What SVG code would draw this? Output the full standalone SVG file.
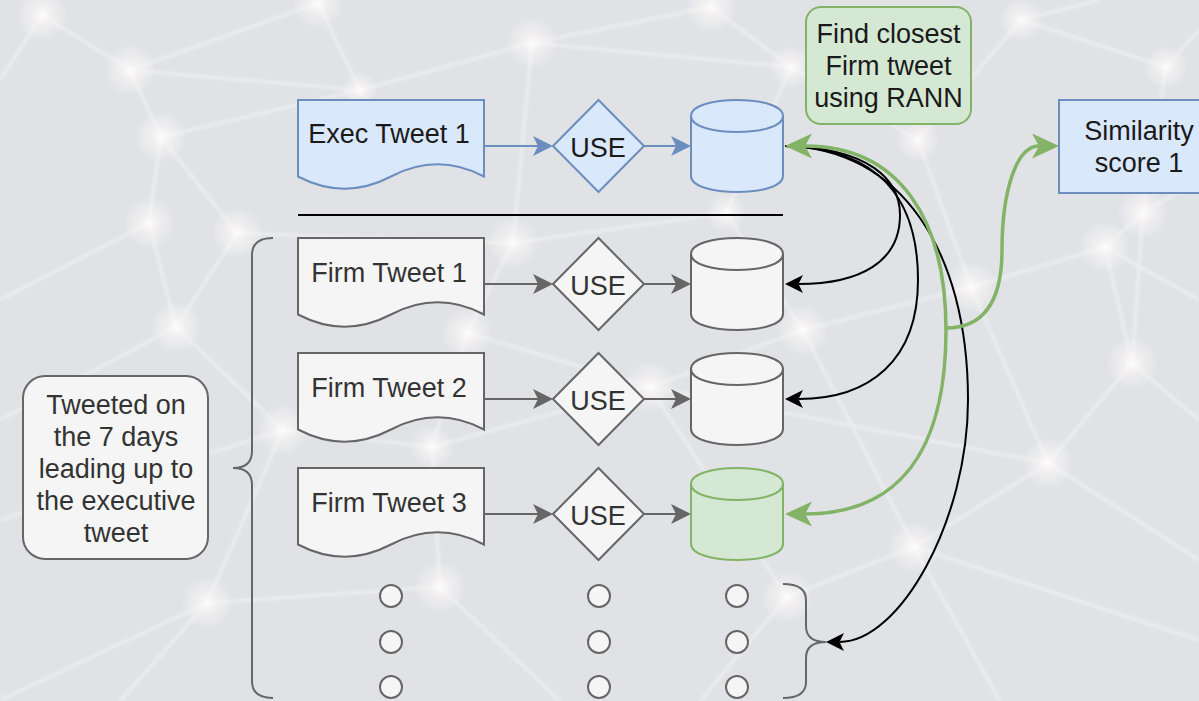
<svg xmlns="http://www.w3.org/2000/svg" width="1199" height="701" viewBox="0 0 1199 701">
<defs>
<style>
.exec{fill:#dae8fc;stroke:#6c8ebf;stroke-width:2}
.firm{fill:#f5f5f5;stroke:#666666;stroke-width:2}
.sel{fill:#d5e8d4;stroke:#82b366;stroke-width:2}
.t{font-family:"Liberation Sans",Arial,Helvetica,sans-serif;font-size:27px;text-anchor:middle}
.dark{fill:#1a1a1a}
.grey{fill:#333333}
.bgl{stroke:#ffffff;stroke-opacity:0.4;stroke-width:3;fill:none}
.blue-arrow{stroke:#6c8ebf;stroke-width:2;fill:none;marker-end:url(#mBlue)}
.grey-arrow{stroke:#666666;stroke-width:2;fill:none;marker-end:url(#mGrey)}
.black-arrow{stroke:#000000;stroke-width:2;fill:none;marker-end:url(#mBlack)}
.green-arrow{stroke:#82b366;stroke-width:3.5;fill:none;marker-end:url(#mGreen)}
.dot{fill:#f5f5f5;stroke:#666666;stroke-width:2}
.brace{fill:none;stroke:#666666;stroke-width:2}
</style>
<radialGradient id="glow">
<stop offset="0" stop-color="#ffffff" stop-opacity="0.9"/>
<stop offset="0.4" stop-color="#fcf7f5" stop-opacity="0.55"/>
<stop offset="1" stop-color="#ffffff" stop-opacity="0"/>
</radialGradient>
<filter id="soft" x="-5%" y="-5%" width="110%" height="110%"><feGaussianBlur stdDeviation="1.6"/></filter>
<marker id="mBlue" markerUnits="userSpaceOnUse" markerWidth="20" markerHeight="20" refX="5" refY="10" orient="auto"><path d="M0,0 L20,10 L0,20 L5,10 Z" fill="#6c8ebf"/></marker>
<marker id="mGrey" markerUnits="userSpaceOnUse" markerWidth="20" markerHeight="20" refX="5" refY="10" orient="auto"><path d="M0,0 L20,10 L0,20 L5,10 Z" fill="#666666"/></marker>
<marker id="mBlack" markerUnits="userSpaceOnUse" markerWidth="18" markerHeight="18" refX="4.5" refY="9" orient="auto"><path d="M0,0 L18,9 L0,18 L4.5,9 Z" fill="#000000"/></marker>
<marker id="mGreen" markerUnits="userSpaceOnUse" markerWidth="27" markerHeight="25" refX="7" refY="12.5" orient="auto"><path d="M0,0 L27,12.5 L0,25 L7,12.5 Z" fill="#82b366"/></marker>
</defs>

<g id="background">
<rect x="0" y="0" width="1199" height="701" fill="#e0e2e6"/>
<g filter="url(#soft)">
<path class="bgl" d="M42,15 L130,70 L161,137 L149,223 M130,70 L360,90 L532,43 L711,7 M130,70 L318,3 M161,137 L360,90 L318,3 M161,137 L237,233 M532,43 L791,67 L918,140 L971,287 M532,43 L513,243 L237,233 M791,67 L711,7 M918,140 L1021,20 L1166,67 L1143,213 L1105,247 L971,287 M1105,247 L1132,363 L1048,463 L914,547 L787,597 M1132,363 L1143,213 M1048,463 L971,287 M914,547 L803,330 L971,287 M803,330 L650,387 L787,597 M803,330 L726,213 L513,243 M726,213 L791,67 M513,243 L467,333 L432,447 L440,587 L207,603 L283,430 L176,327 L237,233 M176,327 L149,223 M467,333 L650,387 L432,447 L283,430 M149,223 L0,300 M176,327 L0,420 M207,603 L0,700 M440,587 L560,701 M787,597 L700,701 M914,547 L1000,701 M1048,463 L1199,560 M1132,363 L1199,420 M1143,213 L1199,180 M1166,67 L1199,30 M1021,20 L1100,0 M42,15 L0,80 M1105,247 L1199,300 M283,430 L0,520 M207,603 L120,701 M914,547 L1199,640 M650,387 L1048,463"/>
</g>
<g fill="url(#glow)">
<circle cx="42" cy="15" r="26"/><circle cx="130" cy="70" r="26"/><circle cx="161" cy="137" r="26"/>
<circle cx="318" cy="3" r="26"/><circle cx="532" cy="43" r="26"/><circle cx="360" cy="90" r="18"/>
<circle cx="149" cy="223" r="26"/><circle cx="237" cy="233" r="26"/><circle cx="711" cy="7" r="26"/>
<circle cx="791" cy="67" r="22"/><circle cx="918" cy="140" r="22"/><circle cx="1021" cy="20" r="22"/>
<circle cx="1143" cy="213" r="26"/><circle cx="1166" cy="67" r="22"/><circle cx="176" cy="327" r="26"/>
<circle cx="283" cy="430" r="26"/><circle cx="467" cy="333" r="26"/><circle cx="432" cy="447" r="22"/>
<circle cx="207" cy="603" r="26"/><circle cx="440" cy="587" r="26"/><circle cx="513" cy="243" r="26"/>
<circle cx="803" cy="330" r="26"/><circle cx="650" cy="387" r="26"/><circle cx="971" cy="287" r="26"/>
<circle cx="1105" cy="247" r="26"/><circle cx="1132" cy="363" r="26"/><circle cx="1048" cy="463" r="26"/>
<circle cx="914" cy="547" r="26"/><circle cx="787" cy="597" r="26"/><circle cx="726" cy="213" r="20"/>
</g>
</g>

<g id="connectors">
<path class="blue-arrow" d="M484,146 H538"/>
<path class="blue-arrow" d="M644,146 H676"/>
<path class="grey-arrow" d="M484,284 H538"/>
<path class="grey-arrow" d="M644,284 H676"/>
<path class="grey-arrow" d="M484,399 H538"/>
<path class="grey-arrow" d="M644,399 H676"/>
<path class="grey-arrow" d="M484,514 H538"/>
<path class="grey-arrow" d="M644,514 H676"/>
<line x1="298" y1="215" x2="783" y2="215" stroke="#000000" stroke-width="2"/>
<path class="black-arrow" d="M785,146 C870,148 900,180 900,215 C900,262 860,284 798.5,284"/>
<path class="black-arrow" d="M785,146 C880,148 918,200 918,280 C918,360 870,399 798.5,399"/>
<path class="black-arrow" d="M785,146 C900,148 968,250 968,400 C968,520 900,642 839.5,642"/>
<path class="green-arrow" d="M946,330 C946,220 900,146 805,146"/>
<path class="green-arrow" d="M946,330 C946,450 900,514 805,514"/>
<path class="green-arrow" d="M946,328 C985,328 1002,300 1002,250 C1002,195 1015,146 1039,146"/>
</g>

<g id="exec-tweet-1">
<path class="exec" d="M298,100 H484 V176.5 Q437.5,152.2 391,176.5 Q344.5,200.8 298,176.5 Z"/>
<text class="t dark" x="389" y="143">Exec Tweet 1</text>
</g>
<g id="exec-use">
<polygon class="exec" points="553,146 598.5,100 644,146 598.5,192"/>
<text class="t dark" x="598" y="157">USE</text>
</g>
<g id="exec-db">
<path class="exec" d="M691,116 C691,94.67 783,94.67 783,116 V176 C783,197.33 691,197.33 691,176 Z"/>
<path class="exec" fill="none" d="M691,116 C691,137.33 783,137.33 783,116"/>
</g>

<g id="firm-tweet-1">
<path class="firm" d="M298,238 H484 V314.5 Q437.5,290.2 391,314.5 Q344.5,338.8 298,314.5 Z"/>
<text class="t grey" x="389" y="282">Firm Tweet 1</text>
</g>
<g id="firm-use-1">
<polygon class="firm" points="553,284 598.5,238 644,284 598.5,330"/>
<text class="t grey" x="598" y="295">USE</text>
</g>
<g id="firm-db-1">
<path class="firm" d="M691,254 C691,232.67 783,232.67 783,254 V314 C783,335.33 691,335.33 691,314 Z"/>
<path class="firm" fill="none" d="M691,254 C691,275.33 783,275.33 783,254"/>
</g>

<g id="firm-tweet-2">
<path class="firm" d="M298,353 H484 V429.5 Q437.5,405.2 391,429.5 Q344.5,453.8 298,429.5 Z"/>
<text class="t grey" x="389" y="397">Firm Tweet 2</text>
</g>
<g id="firm-use-2">
<polygon class="firm" points="553,399 598.5,353 644,399 598.5,445"/>
<text class="t grey" x="598" y="410">USE</text>
</g>
<g id="firm-db-2">
<path class="firm" d="M691,369 C691,347.67 783,347.67 783,369 V429 C783,450.33 691,450.33 691,429 Z"/>
<path class="firm" fill="none" d="M691,369 C691,390.33 783,390.33 783,369"/>
</g>

<g id="firm-tweet-3">
<path class="firm" d="M298,468 H484 V544.5 Q437.5,520.2 391,544.5 Q344.5,568.8 298,544.5 Z"/>
<text class="t grey" x="389" y="512">Firm Tweet 3</text>
</g>
<g id="firm-use-3">
<polygon class="firm" points="553,514 598.5,468 644,514 598.5,560"/>
<text class="t grey" x="598" y="525">USE</text>
</g>
<g id="firm-db-3">
<path class="sel" d="M691,484 C691,462.67 783,462.67 783,484 V544 C783,565.33 691,565.33 691,544 Z"/>
<path class="sel" fill="none" d="M691,484 C691,505.33 783,505.33 783,484"/>
</g>

<g id="more-dots">
<circle class="dot" cx="391" cy="596" r="11"/><circle class="dot" cx="391" cy="642" r="11"/><circle class="dot" cx="391" cy="687" r="11"/>
<circle class="dot" cx="599" cy="596" r="11"/><circle class="dot" cx="599" cy="642" r="11"/><circle class="dot" cx="599" cy="687" r="11"/>
<circle class="dot" cx="737" cy="596" r="11"/><circle class="dot" cx="737" cy="642" r="11"/><circle class="dot" cx="737" cy="687" r="11"/>
</g>

<g id="right-brace">
<path class="brace" d="M783,584 Q806,584 806,600 V626 Q806,642 826,642 Q806,642 806,658 V682 Q806,698 783,698"/>
</g>
<g id="left-brace">
<path class="brace" d="M273,238 Q252,238 252,255 V451 Q252,468 233,468 Q252,468 252,485 V681 Q252,698 273,698"/>
</g>

<g id="tweeted-note">
<rect class="firm" x="23" y="376" width="185" height="183" rx="22" ry="22"/>
<text class="t grey" x="116" y="414">Tweeted on</text>
<text class="t grey" x="116" y="446">the 7 days</text>
<text class="t grey" x="116" y="478">leading up to</text>
<text class="t grey" x="116" y="510">the executive</text>
<text class="t grey" x="116" y="542">tweet</text>
</g>

<g id="find-closest">
<rect class="sel" x="806" y="7" width="165" height="117" rx="15" ry="15"/>
<text class="t dark" x="888.5" y="43">Find closest</text>
<text class="t dark" x="888.5" y="75">Firm tweet</text>
<text class="t dark" x="888.5" y="107">using RANN</text>
</g>

<g id="similarity-score">
<rect class="exec" x="1059" y="100" width="160" height="93"/>
<text class="t dark" x="1139" y="140">Similarity</text>
<text class="t dark" x="1139" y="172">score 1</text>
</g>
</svg>
